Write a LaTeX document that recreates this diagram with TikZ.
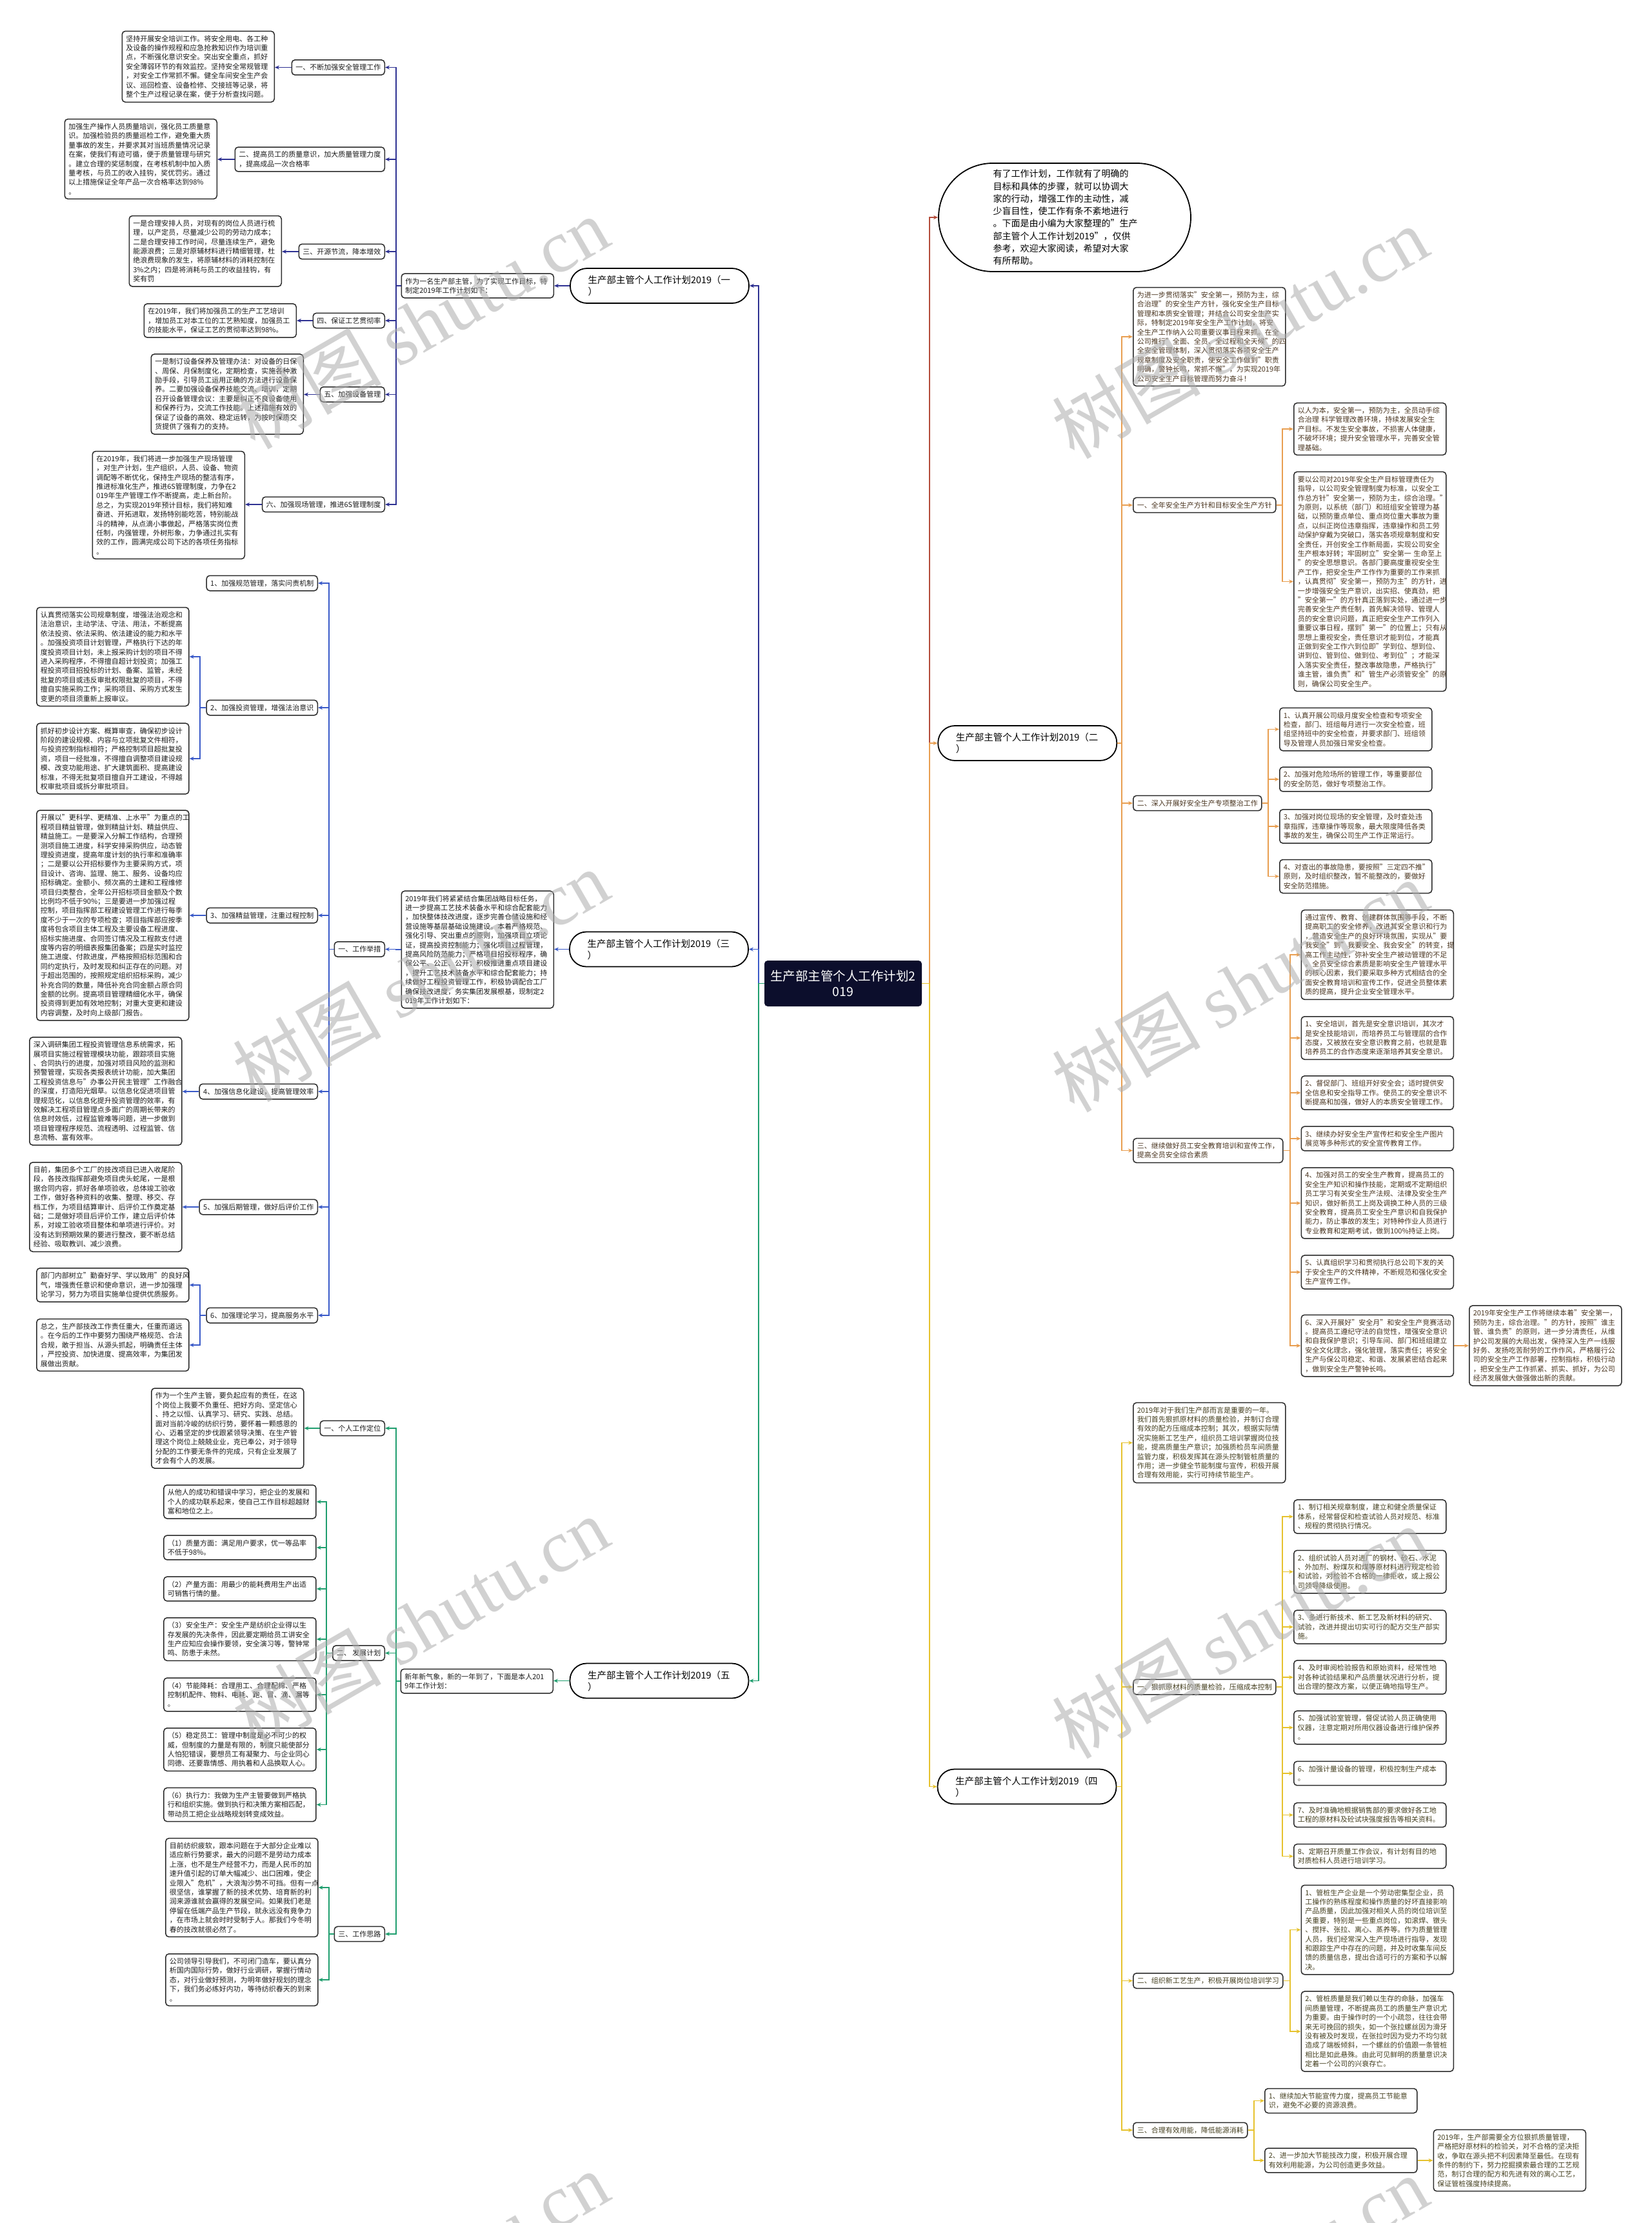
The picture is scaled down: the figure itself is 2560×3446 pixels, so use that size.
\documentclass[tikz,border=0pt]{standalone}
\usepackage{fontspec}
\setmainfont{Noto Sans CJK SC}
\newfontfamily\wmserif{Liberation Serif}
\usetikzlibrary{arrows.meta}

\definecolor{navyline}{HTML}{2E3192}
\definecolor{blueline}{HTML}{3A5AC8}
\definecolor{greenline}{HTML}{1F9E6E}
\definecolor{orangeline}{HTML}{E89E50}
\definecolor{yellowline}{HTML}{E6C22E}
\definecolor{redline}{HTML}{B44C3A}
\definecolor{boxline}{HTML}{2B2B2B}
\definecolor{rootfill}{HTML}{0C0E2C}
\definecolor{txtdark}{HTML}{1C1C1C}
\definecolor{txtbrown}{HTML}{4A3520}
\definecolor{txtolive}{HTML}{454020}

\tikzset{
  cardbox/.style={draw=boxline, line width=1.5pt, fill=white, rounded corners=5pt,
    inner xsep=6pt, inner ysep=6.5pt, font=\fontsize{11}{14.4}\selectfont,
    align=left, text=txtdark},
  txt/.style={cardbox, text width=224pt},
  lbl/.style={cardbox},
  mainpill/.style={draw=black, line width=1.8pt, fill=white, rounded corners=26pt,
    minimum height=54pt, text width=222pt, inner xsep=27.5pt, align=left,
    font=\fontsize{14.5}{18}\selectfont},
  rootbox/.style={fill=rootfill, rounded corners=5pt, text=white, align=center,
    minimum width=244pt, minimum height=71pt, font=\fontsize{19.5}{24}\selectfont},
  intropill/.style={draw=black, line width=1.8pt, fill=white, rounded corners=84pt,
    minimum width=391pt, minimum height=168pt, text width=222pt, align=left,
    font=\fontsize{14}{19.3}\selectfont},
  link/.style={line width=1.8pt, -{Stealth[length=7pt,width=6pt]}},
  lnavy/.style={link, draw=navyline},
  lblue/.style={link, draw=blueline},
  lgreen/.style={link, draw=greenline},
  lorange/.style={link, draw=orangeline},
  lyellow/.style={link, draw=yellowline},
  lred/.style={link, draw=redline},
  wmark/.style={text=black!32, text opacity=0.55, rotate=30,
    font=\fontsize{115}{115}\selectfont}
}

\begin{document}
\begin{tikzpicture}[x=1pt,y=-1pt]
  \fill[white] (0,0) rectangle (2560,3446);
  \useasboundingbox (0,0) rectangle (2560,3446);

  % trunk lines
  \coordinate (tl) at (1176,0);
  \coordinate (tr) at (1441,0);
  \coordinate (t1) at (614,0);
  \coordinate (t3) at (510,0);
  \coordinate (t3s) at (310,0);
  \coordinate (t5b) at (506,0);
  \coordinate (t5c) at (510,0);
  \coordinate (t2) at (1739,0);
  \coordinate (t2a) at (1988,0);
  \coordinate (t2b) at (1966,0);
  \coordinate (t2c) at (2000,0);
  \coordinate (t4a) at (1988,0);
  \coordinate (t4b) at (2000,0);
  \coordinate (t4c) at (1944,0);

  % centre
  \node[rootbox] (root) at (1307,1524.5) {生产部主管个人工作计划2\\019};

  % ---------------- (一) ----------------
  \node[mainpill] (m1) at (1022.5,443) {生产部主管个人工作计划2019（一\\）};
  \node[txt, anchor=east] (b1intro) at (859,443) {作为一名生产部主管，为了实现工作目标，特\\制定2019年工作计划如下：};

  \node[lbl, anchor=east] (b1l1) at (597,104.5) {一、不断加强安全管理工作};
  \node[lbl, anchor=east] (b1l2) at (597,247) {二、提高员工的质量意识，加大质量管理力度\\，提高成品一次合格率};
  \node[lbl, anchor=east] (b1l3) at (597,390) {三、开源节流，降本增效};
  \node[lbl, anchor=east] (b1l4) at (597,497) {四、保证工艺贯彻率};
  \node[lbl, anchor=east] (b1l5) at (597,611.5) {五、加强设备管理};
  \node[lbl, anchor=east] (b1l6) at (597,782) {六、加强现场管理，推进6S管理制度};

  \node[txt, anchor=east] (b1box1) at (426,103.3) {坚持开展安全培训工作。将安全用电、各工种\\及设备的操作规程和应急抢救知识作为培训重\\点，不断强化意识安全。突出安全重点，抓好\\安全薄弱环节的有效监控。坚持安全常规管理\\，对安全工作常抓不懈。健全车间安全生产会\\议、巡回检查、设备检修、交接班等记录，将\\整个生产过程记录在案，便于分析查找问题。};
  \node[txt, anchor=east] (b1box2) at (337,246.5) {加强生产操作人员质量培训，强化员工质量意\\识。加强检验员的质量巡检工作，避免重大质\\量事故的发生，并要求其对当班质量情况记录\\在案，使我们有迹可循，便于质量管理与研究\\。建立合理的奖惩制度，在考核机制中加入质\\量考核，与员工的收入挂钩，奖优罚劣。通过\\以上措施保证全年产品一次合格率达到98\%\\。};
  \node[txt, anchor=east] (b1box3) at (437,389.3) {一是合理安排人员，对现有的岗位人员进行梳\\理，以产定员，尽量减少公司的劳动力成本；\\二是合理安排工作时间，尽量连续生产，避免\\能源浪费；三是对原辅材料进行精细管理，杜\\绝浪费现象的发生，将原辅材料的消耗控制在\\3\%之内；四是将消耗与员工的收益挂钩，有\\奖有罚};
  \node[txt, anchor=east] (b1box4) at (460,497) {在2019年，我们将加强员工的生产工艺培训\\，增加员工对本工位的工艺熟知度，加强员工\\的技能水平，保证工艺的贯彻率达到98\%。};
  \node[txt, anchor=east] (b1box5) at (471,611) {一是制订设备保养及管理办法：对设备的日保\\、周保、月保制度化，定期检查，实施各种激\\励手段，引导员工运用正确的方法进行设备保\\养。二要加强设备保养技能交流、培训，定期\\召开设备管理会议：主要是纠正不良设备使用\\和保养行为，交流工作技能。上述措施有效的\\保证了设备的高效、稳定运转，为按时保质交\\货提供了强有力的支持。};
  \node[txt, anchor=east] (b1box6) at (380,783) {在2019年，我们将进一步加强生产现场管理\\，对生产计划，生产组织，人员、设备、物资\\调配等不断优化，保持生产现场的整洁有序，\\推进标准化生产，推进6S管理制度，力争在2\\019年生产管理工作不断提高，走上新台阶。\\总之，为实现2019年预计目标，我们将知难\\奋进、开拓进取，发扬特别能吃苦，特别能战\\斗的精神，从点滴小事做起，严格落实岗位责\\任制，内强管理，外树形象，力争通过扎实有\\效的工作，圆满完成公司下达的各项任务指标\\。};

  \draw[lnavy] (root.west) -- (root.west -| tl) |- (m1.east);
  \draw[lnavy] (m1.west) -- (m1.west -| b1intro.east);
  \draw[lnavy] (b1intro.west) -- (b1intro.west -| t1) |- (b1l1.east);
  \draw[lnavy] (b1intro.west) -- (b1intro.west -| t1) |- (b1l2.east);
  \draw[lnavy] (b1intro.west) -- (b1intro.west -| t1) |- (b1l3.east);
  \draw[lnavy] (b1intro.west) -- (b1intro.west -| t1) |- (b1l4.east);
  \draw[lnavy] (b1intro.west) -- (b1intro.west -| t1) |- (b1l5.east);
  \draw[lnavy] (b1intro.west) -- (b1intro.west -| t1) |- (b1l6.east);
  \draw[lnavy] (b1l1.west) -- (b1l1.west -| b1box1.east);
  \draw[lnavy] (b1l2.west) -- (b1l2.west -| b1box2.east);
  \draw[lnavy] (b1l3.west) -- (b1l3.west -| b1box3.east);
  \draw[lnavy] (b1l4.west) -- (b1l4.west -| b1box4.east);
  \draw[lnavy] (b1l5.west) -- (b1l5.west -| b1box5.east);
  \draw[lnavy] (b1l6.west) -- (b1l6.west -| b1box6.east);

  % ---------------- (三) ----------------
  \node[mainpill] (m3) at (1021.5,1471.5) {生产部主管个人工作计划2019（三\\）};
  \node[txt, anchor=east] (b3intro) at (859,1472) {2019年我们将紧紧结合集团战略目标任务，\\进一步提高工艺技术装备水平和综合配套能力\\，加快整体技改进度，逐步完善仓储设施和经\\营设施等基层基础设施建设。本着严格规范、\\强化引导、突出重点的原则，加强项目立项论\\证，提高投资控制能力；强化项目过程管理，\\提高风险防范能力；严格项目招投标程序，确\\保公平、公正、公开；积极推进重点项目建设\\，提升工艺技术装备水平和综合配套能力；持\\续做好工程投资管理工作，积极协调配合工厂\\确保技改进度，务实集团发展根基，现制定2\\019年工作计划如下：};
  \node[lbl, anchor=east] (b3l0) at (597,1471.5) {一、工作举措};

  \node[lbl, anchor=east] (b3l1) at (493,904) {1、加强规范管理，落实问责机制};
  \node[lbl, anchor=east] (b3l2) at (493,1097) {2、加强投资管理，增强法治意识};
  \node[lbl, anchor=east] (b3l3) at (493,1419) {3、加强精益管理，注重过程控制};
  \node[lbl, anchor=east] (b3l4) at (493,1692) {4、加强信息化建设，提高管理效率};
  \node[lbl, anchor=east] (b3l5) at (493,1871) {5、加强后期管理，做好后评价工作};
  \node[lbl, anchor=east] (b3l6) at (493,2039) {6、加强理论学习，提高服务水平};

  \node[txt, anchor=east] (b3box2a) at (293.6,1018) {认真贯彻落实公司规章制度，增强法治观念和\\法治意识，主动学法、守法、用法，不断提高\\依法投资、依法采购、依法建设的能力和水平\\。加强投资项目计划管理，严格执行下达的年\\度投资项目计划，未上报采购计划的项目不得\\进入采购程序，不得擅自超计划投资；加强工\\程投资项目招投标的计划、备案、监管，未经\\批复的项目或违反审批权限批复的项目，不得\\擅自实施采购工作；采购项目、采购方式发生\\变更的项目须重新上报审议。};
  \node[txt, anchor=east] (b3box2b) at (293.6,1176) {抓好初步设计方案、概算审查，确保初步设计\\阶段的建设规模、内容与立项批复文件相符，\\与投资控制指标相符；严格控制项目超批复投\\资，项目一经批准，不得擅自调整项目建设规\\模、改变功能用途、扩大建筑面积、提高建设\\标准，不得无批复项目擅自开工建设，不得越\\权审批项目或拆分审批项目。};
  \node[txt, anchor=east] (b3box3) at (293.6,1419) {开展以"更科学、更精准、上水平"为重点的工\\程项目精益管理，做到精益计划、精益供应、\\精益施工。一是要深入分解工作结构，合理预\\测项目施工进度，科学安排采购供应，动态管\\理投资进度，提高年度计划的执行率和准确率\\；二是要以公开招标要作为主要采购方式，项\\目设计、咨询、监理、施工、服务、设备均应\\招标确定。金额小、频次高的土建和工程维修\\项目归类整合，全年公开招标项目金额及个数\\比例均不低于90\%；三是要进一步加强过程\\控制，项目指挥部工程建设管理工作进行每季\\度不少于一次的专项检查；项目指挥部应按季\\度将包含项目主体工程及主要设备工程进度、\\招标实施进度、合同签订情况及工程款支付进\\度等内容的明细表报集团备案；四是实时监控\\施工进度、付款进度，严格按照招标范围和合\\同约定执行，及时发现和纠正存在的问题。对\\于超出范围的，按照规定组织招标采购，减少\\补充合同的数量，降低补充合同金额占原合同\\金额的比例。提高项目管理精细化水平，确保\\投资得到更加有效地控制；对重大变更和建设\\内容调整，及时向上级部门报告。};
  \node[txt, anchor=east] (b3box4) at (282.5,1691.5) {深入调研集团工程投资管理信息系统需求，拓\\展项目实施过程管理模块功能，跟踪项目实施\\、合同执行的进度，加强对项目风险的监测和\\预警管理，实现各类报表统计功能，加大集团\\工程投资信息与"办事公开民主管理"工作融合\\的深度，打造阳光烟草。以信息化促进项目管\\理规范化，以信息化提升投资管理的效率，有\\效解决工程项目管理点多面广的周期长带来的\\信息时效低，过程监管难等问题，进一步做到\\项目管理程序规范、流程透明、过程监管、信\\息流畅、富有效率。};
  \node[txt, anchor=east] (b3box5) at (282.5,1871) {目前，集团多个工厂的技改项目已进入收尾阶\\段，各技改指挥部避免项目虎头蛇尾，一是根\\据合同内容，抓好各单项验收，总体竣工验收\\工作，做好各种资料的收集、整理、移交、存\\档工作，为项目结算审计、后评价工作奠定基\\础；二是做好项目后评价工作，建立后评价体\\系，对竣工验收项目整体和单项进行评价。对\\没有达到预期效果的要进行整改，要不断总结\\经验、吸取教训、减少浪费。};
  \node[txt, anchor=east] (b3box6a) at (293.6,1992) {部门内部树立"勤奋好学、学以致用"的良好风\\气，增强责任意识和使命意识，进一步加强理\\论学习，努力为项目实施单位提供优质服务。};
  \node[txt, anchor=east] (b3box6b) at (293.6,2085) {总之，生产部技改工作责任重大，任重而道远\\。在今后的工作中要努力围绕严格规范、合法\\合规，敢于担当、从源头抓起，明确责任主体\\，严控投资、加快进度、提高效率，为集团发\\展做出贡献。};

  \draw[lblue] (root.west) -- (root.west -| tl) |- (m3.east);
  \draw[lblue] (m3.west) -- (m3.west -| b3intro.east);
  \draw[lblue] (b3intro.west) -- (b3intro.west -| t1) |- (b3l0.east);
  \draw[lblue] (b3l0.west) -- (b3l0.west -| t3) |- (b3l1.east);
  \draw[lblue] (b3l0.west) -- (b3l0.west -| t3) |- (b3l2.east);
  \draw[lblue] (b3l0.west) -- (b3l0.west -| t3) |- (b3l3.east);
  \draw[lblue] (b3l0.west) -- (b3l0.west -| t3) |- (b3l4.east);
  \draw[lblue] (b3l0.west) -- (b3l0.west -| t3) |- (b3l5.east);
  \draw[lblue] (b3l0.west) -- (b3l0.west -| t3) |- (b3l6.east);
  \draw[lblue] (b3l2.west) -- (b3l2.west -| t3s) |- (b3box2a.east);
  \draw[lblue] (b3l2.west) -- (b3l2.west -| t3s) |- (b3box2b.east);
  \draw[lblue] (b3l3.west) -- (b3l3.west -| b3box3.east);
  \draw[lblue] (b3l4.west) -- (b3l4.west -| b3box4.east);
  \draw[lblue] (b3l5.west) -- (b3l5.west -| b3box5.east);
  \draw[lblue] (b3l6.west) -- (b3l6.west -| t3s) |- (b3box6a.east);
  \draw[lblue] (b3l6.west) -- (b3l6.west -| t3s) |- (b3box6b.east);

  % ---------------- (五) ----------------
  \node[mainpill] (m5) at (1022,2605.5) {生产部主管个人工作计划2019（五\\）};
  \node[txt, anchor=east] (b5intro) at (858,2606) {新年新气象，新的一年到了，下面是本人201\\9年工作计划：};

  \node[lbl, anchor=east] (b5l1) at (597,2214) {一、个人工作定位};
  \node[lbl, anchor=east] (b5l2) at (597,2562.5) {二、 发展计划};
  \node[lbl, anchor=east] (b5l3) at (597,2998) {三、工作思路};

  \node[txt, anchor=east] (b5box1) at (471.5,2214) {作为一个生产主管，要负起应有的责任，在这\\个岗位上我要不负重任、把好方向、坚定信心\\、持之以恒、认真学习、研究、实践、总结。\\面对当前冷峻的纺织行势，要怀着一颗感恩的\\心、迈着坚定的步伐跟紧领导决策、在生产管\\理这个岗位上兢兢业业，克已奉公，对于领导\\分配的工作要无条件的完成，只有企业发展了\\才会有个人的发展。};
  \node[txt, anchor=east] (b5box2a) at (490.7,2328) {从他人的成功和错误中学习，把企业的发展和\\个人的成功联系起来，使自己工作目标超越财\\富和地位之上。};
  \node[txt, anchor=east] (b5box2b) at (490.7,2399) {（1）质量方面：满足用户要求，优一等品率\\不低于98\%。};
  \node[txt, anchor=east] (b5box2c) at (490.7,2463) {（2）产量方面：用最少的能耗费用生产出适\\可销售行情的量。};
  \node[txt, anchor=east] (b5box2d) at (490.7,2541) {（3）安全生产：安全生产是纺织企业得以生\\存发展的先决条件，因此要定期给员工讲安全\\生产应知应会操作要领，安全演习等，警钟常\\鸣、防患于未然。};
  \node[txt, anchor=east] (b5box2e) at (490.7,2627) {（4）节能降耗：合理用工、合理配棉、严格\\控制机配件、物料、电耗、跑、冒、滴、漏等\\。};
  \node[txt, anchor=east] (b5box2f) at (490.7,2712) {（5）稳定员工：管理中制度是必不可少的权\\威，但制度的力量是有限的，制度只能使部分\\人怕犯错误，要想员工有凝聚力、与企业同心\\同德、还要靠情感、用执着和人品换取人心。};
  \node[txt, anchor=east] (b5box2g) at (490.7,2797.5) {（6）执行力：我做为生产主管要做到严格执\\行和组织实施。做到执行和决策方案相匹配，\\带动员工把企业战略规划转变成效益。};
  \node[txt, anchor=east] (b5box3a) at (493.6,2926) {目前纺织疲软，跟本问题在于大部分企业难以\\适应新行势要求，最大的问题不是劳动力成本\\上涨，也不是生产经营不力，而是人民币的加\\速升值引起的订单大幅减少、出口困难，使企\\业限入"危机"，大浪淘沙势不可挡。但有一点\\很坚信，谁掌握了新的技术优势、培育新的利\\润来源谁就会赢得的发展空间。如果我们老是\\停留在低端产品生产节段，就永远没有竟争力\\，在市场上就会时时受制于人。那我们今冬明\\春的技改就很必然了。};
  \node[txt, anchor=east] (b5box3b) at (493.6,3069) {公司领导引导我们，不可闭门造车，要认真分\\析国内国际行势，做好行业调研，掌握行情动\\态，对行业做好预测，为明年做好规划的理念\\下，我们务必练好内功，等待纺织春天的到来\\。};

  \draw[lgreen] (root.west) -- (root.west -| tl) |- (m5.east);
  \draw[lgreen] (m5.west) -- (m5.west -| b5intro.east);
  \draw[lgreen] (b5intro.west) -- (b5intro.west -| t1) |- (b5l1.east);
  \draw[lgreen] (b5intro.west) -- (b5intro.west -| t1) |- (b5l2.east);
  \draw[lgreen] (b5intro.west) -- (b5intro.west -| t1) |- (b5l3.east);
  \draw[lgreen] (b5l1.west) -- (b5l1.west -| b5box1.east);
  \draw[lgreen] (b5l2.west) -- (b5l2.west -| t5b) |- (b5box2a.east);
  \draw[lgreen] (b5l2.west) -- (b5l2.west -| t5b) |- (b5box2b.east);
  \draw[lgreen] (b5l2.west) -- (b5l2.west -| t5b) |- (b5box2c.east);
  \draw[lgreen] (b5l2.west) -- (b5l2.west -| t5b) |- (b5box2d.east);
  \draw[lgreen] (b5l2.west) -- (b5l2.west -| t5b) |- (b5box2e.east);
  \draw[lgreen] (b5l2.west) -- (b5l2.west -| t5b) |- (b5box2f.east);
  \draw[lgreen] (b5l2.west) -- (b5l2.west -| t5b) |- (b5box2g.east);
  \draw[lgreen] (b5l3.west) -- (b5l3.west -| t5c) |- (b5box3a.east);
  \draw[lgreen] (b5l3.west) -- (b5l3.west -| t5c) |- (b5box3b.east);

  % ---------------- intro ----------------
  \node[intropill] (intro) at (1650.5,337) {有了工作计划，工作就有了明确的\\目标和具体的步骤，就可以协调大\\家的行动，增强工作的主动性，减\\少盲目性，使工作有条不紊地进行\\。下面是由小编为大家整理的"生产\\部主管个人工作计划2019"，仅供\\参考，欢迎大家阅读，希望对大家\\有所帮助。};
  \draw[lred] (root.east) -- (root.east -| tr) |- (intro.west);

  % ---------------- (二) ----------------
  \node[mainpill] (m2) at (1592.75,1152) {生产部主管个人工作计划2019（二\\）};
  \node[txt, anchor=west, text=txtbrown] (b2intro) at (1756,522) {为进一步贯彻落实"安全第一，预防为主，综\\合治理"的安全生产方针，强化安全生产目标\\管理和本质安全管理；并结合公司安全生产实\\际，特制定2019年安全生产工作计划，将安\\全生产工作纳入公司重要议事日程来抓。在全\\公司推行"全面、全员、全过程和全天候"的四\\全安全管理体制，深入贯彻落实各项安全生产\\规章制度及安全职责，使安全工作做到"职责\\明确，警钟长鸣，常抓不懈"，为实现2019年\\公司安全生产目标管理而努力奋斗！};

  \node[lbl, anchor=west, text=txtbrown] (b2l1) at (1756,783) {一、全年安全生产方针和目标安全生产方针};
  \node[lbl, anchor=west, text=txtbrown] (b2l2) at (1756,1245) {二、深入开展好安全生产专项整治工作};
  \node[lbl, anchor=west, text=txtbrown] (b2l3) at (1756,1783.5) {三、继续做好员工安全教育培训和宣传工作，\\提高全员安全综合素质};

  \node[txt, anchor=west, text=txtbrown] (b2box1a) at (2005,665) {以人为本，安全第一，预防为主，全员动手综\\合治理 科学管理改善环境，持续发展安全生\\产目标。不发生安全事故，不损害人体健康，\\不破坏环境；提升安全管理水平，完善安全管\\理基础。};
  \node[txt, anchor=west, text=txtbrown] (b2box1b) at (2005,901.5) {要以公司对2019年安全生产目标管理责任为\\指导，以公司安全管理制度为标准，以安全工\\作总方针"安全第一，预防为主，综合治理。"\\为原则，以系统（部门）和班组安全管理为基\\础，以预防重点单位、重点岗位重大事故为重\\点，以纠正岗位违章指挥，违章操作和员工劳\\动保护穿戴为突破口，落实各项规章制度和安\\全责任，开创安全工作新局面，实现公司安全\\生产根本好转；牢固树立"安全第一 生命至上\\"的安全思想意识。各部门要高度重视安全生\\产工作，把安全生产工作作为重要的工作来抓\\，认真贯彻"安全第一，预防为主"的方针，进\\一步增强安全生产意识，出实招、使真劲，把\\"安全第一"的方针真正落到实处，通过进一步\\完善安全生产责任制，首先解决领导、管理人\\员的安全意识问题，真正把安全生产工作列入\\重要议事日程，摆到"第一"的位置上；只有从\\思想上重视安全，责任意识才能到位，才能真\\正做到安全工作六到位即"学到位、想到位、\\讲到位、管到位、做到位、考到位"；才能深\\入落实安全责任，整改事故隐患，严格执行"\\谁主管，谁负责"和"管生产必须管安全"的原\\则，确保公司安全生产。};

  \node[txt, anchor=west, text=txtbrown] (b2box2a) at (1983,1130.5) {1、认真开展公司级月度安全检查和专项安全\\检查，部门、班组每月进行一次安全检查，班\\组坚持班中的安全检查，并要求部门、班组领\\导及管理人员加强日常安全检查。};
  \node[txt, anchor=west, text=txtbrown] (b2box2b) at (1983,1208) {2、加强对危险场所的管理工作，等重要部位\\的安全防范，做好专项整治工作。};
  \node[txt, anchor=west, text=txtbrown] (b2box2c) at (1983,1281) {3、加强对岗位现场的安全管理，及时查处违\\章指挥，违章操作等现象，最大限度降低各类\\事故的发生，确保公司生产工作正常运行。};
  \node[txt, anchor=west, text=txtbrown] (b2box2d) at (1983,1358.5) {4、对查出的事故隐患，要按照"三定四不推"\\原则，及时组织整改，暂不能整改的，要做好\\安全防范措施。};

  \node[txt, anchor=west, text=txtbrown] (b2box3a) at (2016.5,1480) {通过宣传、教育、创建群体氛围等手段，不断\\提高职工的安全修养，改进其安全意识和行为\\，营造安全生产的良好环境氛围，实现从"要\\我安全"到"我要安全、我会安全"的转变，提\\高工作主动性，弥补安全生产被动管理的不足\\。全员安全综合素质是影响安全生产管理水平\\的核心因素，我们要采取多种方式相结合的全\\面安全教育培训和宣传工作，促进全员整体素\\质的提高，提升企业安全管理水平。};
  \node[txt, anchor=west, text=txtbrown] (b2box3b) at (2016.5,1609) {1、安全培训，首先是安全意识培训，其次才\\是安全技能培训，而培养员工与管理层的合作\\态度，又被放在安全意识教育之前，也就是靠\\培养员工的合作态度来逐渐培养其安全意识。};
  \node[txt, anchor=west, text=txtbrown] (b2box3c) at (2016.5,1694) {2、督促部门、班组开好安全会；适时提供安\\全信息和安全指导工作。使员工的安全意识不\\断提高和加强，做好人的本质安全管理工作。};
  \node[txt, anchor=west, text=txtbrown] (b2box3d) at (2016.5,1765) {3、继续办好安全生产宣传栏和安全生产图片\\展览等多种形式的安全宣传教育工作。};
  \node[txt, anchor=west, text=txtbrown] (b2box3e) at (2016.5,1865) {4、加强对员工的安全生产教育，提高员工的\\安全生产知识和操作技能，定期或不定期组织\\员工学习有关安全生产法规、法律及安全生产\\知识，做好新员工上岗及调换工种人员的三级\\安全教育，提高员工安全生产意识和自我保护\\能力，防止事故的发生；对特种作业人员进行\\专业教育和定期考试，做到100\%持证上岗。};
  \node[txt, anchor=west, text=txtbrown] (b2box3f) at (2016.5,1972) {5、认真组织学习和贯彻执行总公司下发的关\\于安全生产的文件精神，不断规范和强化安全\\生产宣传工作。};
  \node[txt, anchor=west, text=txtbrown] (b2box3g) at (2016.5,2086) {6、深入开展好"安全月"和安全生产竞赛活动\\。提高员工遵纪守法的自觉性，增强安全意识\\和自我保护意识；引导车间、部门和班组建立\\安全文化理念，强化管理，落实责任；将安全\\生产与保公司稳定、和谐、发展紧密结合起来\\，做到安全生产警钟长鸣。};
  \node[txt, anchor=west, text=txtbrown] (b2far) at (2277,2086) {2019年安全生产工作将继续本着"安全第一，\\预防为主，综合治理。"的方针，按照"谁主\\管、谁负责"的原则，进一步分清责任，从维\\护公司发展的大局出发，保持深入生产一线服\\好务、发扬吃苦耐劳的工作作风，严格履行公\\司的安全生产工作部署，控制指标，积极行动\\，把安全生产工作抓紧、抓实、抓好，为公司\\经济发展做大做强做出新的贡献。};

  \draw[lorange] (root.east) -- (root.east -| tr) |- (m2.west);
  \draw[lorange] (m2.east) -- (m2.east -| t2) |- (b2intro.west);
  \draw[lorange] (m2.east) -- (m2.east -| t2) |- (b2l1.west);
  \draw[lorange] (m2.east) -- (m2.east -| t2) |- (b2l2.west);
  \draw[lorange] (m2.east) -- (m2.east -| t2) |- (b2l3.west);
  \draw[lorange] (b2l1.east) -- (b2l1.east -| t2a) |- (b2box1a.west);
  \draw[lorange] (b2l1.east) -- (b2l1.east -| t2a) |- (b2box1b.west);
  \draw[lorange] (b2l2.east) -- (b2l2.east -| t2b) |- (b2box2a.west);
  \draw[lorange] (b2l2.east) -- (b2l2.east -| t2b) |- (b2box2b.west);
  \draw[lorange] (b2l2.east) -- (b2l2.east -| t2b) |- (b2box2c.west);
  \draw[lorange] (b2l2.east) -- (b2l2.east -| t2b) |- (b2box2d.west);
  \draw[lorange] (b2l3.east) -- (b2l3.east -| t2c) |- (b2box3a.west);
  \draw[lorange] (b2l3.east) -- (b2l3.east -| t2c) |- (b2box3b.west);
  \draw[lorange] (b2l3.east) -- (b2l3.east -| t2c) |- (b2box3c.west);
  \draw[lorange] (b2l3.east) -- (b2l3.east -| t2c) |- (b2box3d.west);
  \draw[lorange] (b2l3.east) -- (b2l3.east -| t2c) |- (b2box3e.west);
  \draw[lorange] (b2l3.east) -- (b2l3.east -| t2c) |- (b2box3f.west);
  \draw[lorange] (b2l3.east) -- (b2l3.east -| t2c) |- (b2box3g.west);
  \draw[lorange] (b2box3g.east) -- (b2box3g.east -| b2far.west);

  % ---------------- (四) ----------------
  \node[mainpill] (m4) at (1592,2769.5) {生产部主管个人工作计划2019（四\\）};
  \node[txt, anchor=west, text=txtolive] (b4intro) at (1756,2236.5) {2019年对于我们生产部而言是重要的一年。\\我们首先狠抓原材料的质量检验，并制订合理\\有效的配方压缩成本控制；其次，根据实际情\\况实施新工艺生产，组织员工培训掌握岗位技\\能，提高质量生产意识；加强质检员车间质量\\监管力度，积极发挥其在源头控制管桩质量的\\作用；进一步健全节能制度与宣传，积极开展\\合理有效用能，实行可持续节能生产。};

  \node[lbl, anchor=west, text=txtolive] (b4l1) at (1756,2615) {一、狠抓原材料的质量检验，压缩成本控制};
  \node[lbl, anchor=west, text=txtolive] (b4l2) at (1756,3070.5) {二、组织新工艺生产，积极开展岗位培训学习};
  \node[lbl, anchor=west, text=txtolive] (b4l3) at (1756,3302) {三、合理有效用能，降低能源消耗};

  \node[txt, anchor=west, text=txtolive] (b4box1a) at (2005,2351) {1、制订相关规章制度，建立和健全质量保证\\体系，经常督促和检查试验人员对规范、标准\\、规程的贯彻执行情况。};
  \node[txt, anchor=west, text=txtolive] (b4box1b) at (2005,2436.5) {2、组织试验人员对进厂的钢材、砂石、水泥\\、外加剂、粉煤灰和煤等原材料进行规定检验\\和试验，对检验不合格的一律拒收，或上报公\\司领导降级使用。};
  \node[txt, anchor=west, text=txtolive] (b4box1c) at (2005,2522) {3、多进行新技术、新工艺及新材料的研究、\\试验，改进并提出切实可行的配方交生产部实\\施。};
  \node[txt, anchor=west, text=txtolive] (b4box1d) at (2005,2600) {4、及时审阅检验报告和原始资料，经常性地\\对各种试验结果和产品质量状况进行分析，提\\出合理的整改方案，以便正确地指导生产。};
  \node[txt, anchor=west, text=txtolive] (b4box1e) at (2005,2678) {5、加强试验室管理，督促试验人员正确使用\\仪器，注意定期对所用仪器设备进行维护保养\\。};
  \node[txt, anchor=west, text=txtolive] (b4box1f) at (2005,2749) {6、加强计量设备的管理，积极控制生产成本\\。};
  \node[txt, anchor=west, text=txtolive] (b4box1g) at (2005,2813.5) {7、及时准确地根据销售部的要求做好各工地\\工程的原材料及砼试块强度报告等相关资料。};
  \node[txt, anchor=west, text=txtolive] (b4box1h) at (2005,2877.5) {8、定期召开质量工作会议，有计划有目的地\\对质检科人员进行培训学习。};

  \node[txt, anchor=west, text=txtolive] (b4box2a) at (2016.5,2991.5) {1、管桩生产企业是一个劳动密集型企业，员\\工操作的熟练程度和操作质量的好坏直接影响\\产品质量，因此加强对相关人员的岗位培训至\\关重要，特别是一些重点岗位，如滚焊、镦头\\、搅拌、张拉、离心、蒸养等。作为质量管理\\人员，我们经常深入生产现场进行指导，发现\\和跟踪生产中存在的问题，并及时收集车间反\\馈的质量信息，提出合适可行的方案和予以解\\决。};
  \node[txt, anchor=west, text=txtolive] (b4box2b) at (2016.5,3149) {2、管桩质量是我们赖以生存的命脉，加强车\\间质量管理，不断提高员工的质量生产意识尤\\为重要。由于操作时的一个小疏忽，往往会带\\来无可挽回的损失，如一个张拉螺丝因为滑牙\\没有被及时发现，在张拉时因为受力不均匀就\\造成了端板倾斜，一个螺丝的价值跟一条管桩\\相比是如此悬殊。由此可见鲜明的质量意识决\\定着一个公司的兴衰存亡。};

  \node[txt, anchor=west, text=txtolive] (b4box3a) at (1960,3256.5) {1、继续加大节能宣传力度，提高员工节能意\\识，避免不必要的资源浪费。};
  \node[txt, anchor=west, text=txtolive] (b4box3b) at (1960,3349) {2、进一步加大节能技改力度，积极开展合理\\有效利用能源，为公司创造更多效益。};
  \node[txt, anchor=west, text=txtolive] (b4far) at (2221.5,3349) {2019年，生产部需要全方位狠抓质量管理，\\严格把好原材料的检验关，对不合格的坚决拒\\收，争取在源头把不利因素降至最低。在现有\\条件的制约下，努力挖掘摸索最合理的工艺规\\范，制订合理的配方和先进有效的离心工艺，\\保证管桩强度持续提高。};

  \draw[lyellow] (root.east) -- (root.east -| tr) |- (m4.west);
  \draw[lyellow] (m4.east) -- (m4.east -| t2) |- (b4intro.west);
  \draw[lyellow] (m4.east) -- (m4.east -| t2) |- (b4l1.west);
  \draw[lyellow] (m4.east) -- (m4.east -| t2) |- (b4l2.west);
  \draw[lyellow] (m4.east) -- (m4.east -| t2) |- (b4l3.west);
  \draw[lyellow] (b4l1.east) -- (b4l1.east -| t4a) |- (b4box1a.west);
  \draw[lyellow] (b4l1.east) -- (b4l1.east -| t4a) |- (b4box1b.west);
  \draw[lyellow] (b4l1.east) -- (b4l1.east -| t4a) |- (b4box1c.west);
  \draw[lyellow] (b4l1.east) -- (b4l1.east -| t4a) |- (b4box1d.west);
  \draw[lyellow] (b4l1.east) -- (b4l1.east -| t4a) |- (b4box1e.west);
  \draw[lyellow] (b4l1.east) -- (b4l1.east -| t4a) |- (b4box1f.west);
  \draw[lyellow] (b4l1.east) -- (b4l1.east -| t4a) |- (b4box1g.west);
  \draw[lyellow] (b4l1.east) -- (b4l1.east -| t4a) |- (b4box1h.west);
  \draw[lyellow] (b4l2.east) -- (b4l2.east -| t4b) |- (b4box2a.west);
  \draw[lyellow] (b4l2.east) -- (b4l2.east -| t4b) |- (b4box2b.west);
  \draw[lyellow] (b4l3.east) -- (b4l3.east -| t4c) |- (b4box3a.west);
  \draw[lyellow] (b4l3.east) -- (b4l3.east -| t4c) |- (b4box3b.west);
  \draw[lyellow] (b4box3b.east) -- (b4box3b.east -| b4far.west);

  % watermark
  \node[wmark] (wm1) at (652,500) {树图 {\wmserif shutu.cn}};
  \node[wmark] (wm2) at (1922,515) {树图 {\wmserif shutu.cn}};
  \node[wmark] (wm3) at (652,1512) {树图 {\wmserif shutu.cn}};
  \node[wmark] (wm4) at (1922,1528) {树图 {\wmserif shutu.cn}};
  \node[wmark] (wm5) at (652,2515) {树图 {\wmserif shutu.cn}};
  \node[wmark] (wm6) at (1922,2530) {树图 {\wmserif shutu.cn}};
  \node[wmark] (wm7) at (652,3530) {树图 {\wmserif shutu.cn}};
  \node[wmark] (wm8) at (1922,3537) {树图 {\wmserif shutu.cn}};
\end{tikzpicture}
\end{document}
